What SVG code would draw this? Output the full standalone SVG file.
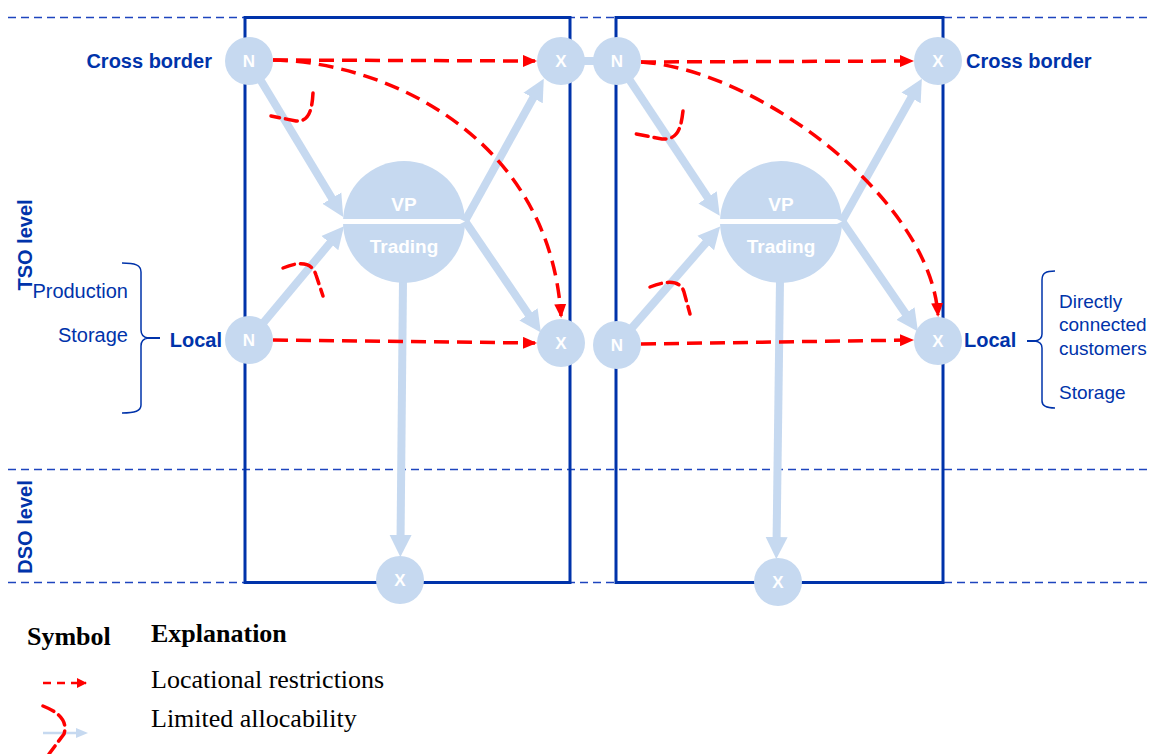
<svg xmlns="http://www.w3.org/2000/svg" width="1149" height="754" viewBox="0 0 1149 754">
  <style>
    .grid { stroke: #1E45BE; stroke-width: 1.5; stroke-dasharray: 8 5; fill: none; }
    .box { stroke: #0033AA; stroke-width: 3; fill: none; }
    .flow { stroke: #C6D9F0; stroke-width: 8; fill: none; marker-end: url(#flowHead); }
    .link { stroke: #C6D9F0; stroke-width: 8; fill: none; }
    .restr { stroke: #FF0000; stroke-width: 3.5; fill: none; stroke-dasharray: 15 8; marker-end: url(#redHead); }
    .hook { stroke: #FF0000; stroke-width: 3.5; fill: none; stroke-dasharray: 12 6; stroke-linecap: round; }
    .node { fill: #C6D9F0; }
    .nodeTxt { font-family: "Liberation Sans", Arial, sans-serif; font-weight: bold; font-size: 17px; fill: #FFFFFF; text-anchor: middle; }
    .vpTxt { font-family: "Liberation Sans", Arial, sans-serif; font-weight: bold; font-size: 19px; fill: #FFFFFF; text-anchor: middle; }
    .lbl { font-family: "Liberation Sans", Arial, sans-serif; font-weight: bold; font-size: 20px; fill: #0033AA; }
    .sub { font-family: "Liberation Sans", Arial, sans-serif; font-size: 20px; fill: #0033AA; }
    .subR { font-family: "Liberation Sans", Arial, sans-serif; font-size: 19px; fill: #0033AA; }
    .brace { stroke: #0033AA; stroke-width: 1.5; fill: none; }
    .legHead { font-family: "Liberation Serif", "Times New Roman", serif; font-weight: bold; font-size: 26px; fill: #000000; }
    .legTxt { font-family: "Liberation Serif", "Times New Roman", serif; font-size: 26px; fill: #000000; }
  </style>
  <defs>
    <marker id="flowHead" markerUnits="userSpaceOnUse" markerWidth="24" markerHeight="24" viewBox="0 0 24 24" refX="8" refY="12" orient="auto">
      <path d="M0,1 L22,12 L0,23 Z" fill="#C6D9F0"/>
    </marker>
    <marker id="redHead" markerUnits="userSpaceOnUse" markerWidth="14" markerHeight="12" viewBox="0 0 14 12" refX="12" refY="6" orient="auto">
      <path d="M0,0 L14,6 L0,12 Z" fill="#FF0000"/>
    </marker>
    <marker id="redHeadSmall" markerUnits="userSpaceOnUse" markerWidth="10" markerHeight="10" viewBox="0 0 10 10" refX="9" refY="5" orient="auto">
      <path d="M0,0 L10,5 L0,10 Z" fill="#FF0000"/>
    </marker>
    <marker id="flowHeadSmall" markerUnits="userSpaceOnUse" markerWidth="12" markerHeight="10" viewBox="0 0 12 10" refX="4" refY="5" orient="auto">
      <path d="M0,0 L12,5 L0,10 Z" fill="#C6D9F0"/>
    </marker>
  </defs>

  <!-- level separators -->
  <g id="grid">
    <line class="grid" x1="8" y1="17.5" x2="1149" y2="17.5"/>
    <line class="grid" x1="8" y1="469.5" x2="1149" y2="469.5"/>
    <line class="grid" x1="8" y1="582.5" x2="1149" y2="582.5"/>
  </g>

  <!-- market areas -->
  <g id="areas">
    <rect class="box" x="245" y="17.5" width="325" height="565"/>
    <rect class="box" x="616" y="17.5" width="327" height="565"/>
  </g>

  <g id="connectors">
    <!-- gas flows -->
    <line class="link" x1="561" y1="61" x2="617" y2="61"/>
    <line class="flow" x1="249" y1="61" x2="336" y2="205"/>
    <line class="flow" x1="249" y1="340" x2="335" y2="237"/>
    <line class="flow" x1="465" y1="221" x2="537" y2="91"/>
    <line class="flow" x1="465" y1="221" x2="533" y2="321"/>
    <line class="flow" x1="403" y1="280" x2="400.5" y2="543"/>
    <line class="flow" x1="617" y1="61" x2="712" y2="204"/>
    <line class="flow" x1="617" y1="345" x2="711" y2="237"/>
    <line class="flow" x1="842" y1="221" x2="915" y2="91"/>
    <line class="flow" x1="842" y1="221" x2="910" y2="320"/>
    <line class="flow" x1="780" y1="280" x2="776.5" y2="545"/>

    <!-- locational restrictions -->
    <path class="restr" d="M273,60 L535,61"/>
    <path class="restr" d="M273,60 C390,62 550,140 561,316"/>
    <path class="restr" d="M273,340 L535,343"/>
    <path class="restr" d="M641,62 L912,61"/>
    <path class="restr" d="M641,62 C760,70 930,200 938,315"/>
    <path class="restr" d="M641,344 L912,340"/>

    <!-- limited allocability -->
    <path class="hook" d="M313,93 C312,112 308,122 296,121 L271,116"/>
    <path class="hook" d="M283,268 C300,261 312,262 316,275 L323,296"/>
    <path class="hook" d="M683,111 C681,128 678,140 662,139 L636,134"/>
    <path class="hook" d="M650,287 C665,281 680,279 684,292 L690,314"/>
  </g>

  <!-- area 1 nodes -->
  <g id="n1-cross">
    <circle class="node" cx="249" cy="61" r="24"/>
    <text class="nodeTxt" x="249" y="67">N</text>
  </g>
  <g id="x1-cross">
    <circle class="node" cx="561" cy="61" r="24"/>
    <text class="nodeTxt" x="561" y="67">X</text>
  </g>
  <g id="n1-local">
    <circle class="node" cx="249" cy="340" r="24"/>
    <text class="nodeTxt" x="249" y="346">N</text>
  </g>
  <g id="x1-local">
    <circle class="node" cx="561" cy="343" r="24"/>
    <text class="nodeTxt" x="561" y="349">X</text>
  </g>
  <g id="x1-dso">
    <circle class="node" cx="400" cy="580" r="24"/>
    <text class="nodeTxt" x="400" y="586">X</text>
  </g>
  <g id="vp1">
    <circle class="node" cx="404" cy="222" r="61"/>
    <path d="M343,219 L460,219 L465,221.5 L460,224 L343,224 Z" fill="#FFFFFF"/>
    <text class="vpTxt" x="404" y="211">VP</text>
    <text class="vpTxt" x="404" y="253">Trading</text>
  </g>

  <!-- area 2 nodes -->
  <g id="n2-cross">
    <circle class="node" cx="617" cy="61" r="24"/>
    <text class="nodeTxt" x="617" y="67">N</text>
  </g>
  <g id="x2-cross">
    <circle class="node" cx="938" cy="61" r="24"/>
    <text class="nodeTxt" x="938" y="67">X</text>
  </g>
  <g id="n2-local">
    <circle class="node" cx="617" cy="345" r="24"/>
    <text class="nodeTxt" x="617" y="351">N</text>
  </g>
  <g id="x2-local">
    <circle class="node" cx="938" cy="341" r="24"/>
    <text class="nodeTxt" x="938" y="347">X</text>
  </g>
  <g id="x2-dso">
    <circle class="node" cx="778" cy="582" r="24"/>
    <text class="nodeTxt" x="778" y="588">X</text>
  </g>
  <g id="vp2">
    <circle class="node" cx="781" cy="222" r="61"/>
    <path d="M720,219 L837,219 L842,221.5 L837,224 L720,224 Z" fill="#FFFFFF"/>
    <text class="vpTxt" x="781" y="211">VP</text>
    <text class="vpTxt" x="781" y="253">Trading</text>
  </g>

  <!-- level labels -->
  <g id="levels">
    <text class="lbl" transform="translate(32,245) rotate(-90)" text-anchor="middle">TSO level</text>
    <text class="lbl" transform="translate(32,527) rotate(-90)" text-anchor="middle">DSO level</text>
  </g>

  <!-- entry side labels -->
  <g id="entry-labels">
    <text class="lbl" x="212" y="68" text-anchor="end">Cross border</text>
    <text class="lbl" x="222" y="347" text-anchor="end">Local</text>
    <text class="sub" x="128" y="298" text-anchor="end">Production</text>
    <text class="sub" x="128" y="342" text-anchor="end">Storage</text>
    <path class="brace" d="M122,263 C135,263 141,265 141,272 L141,330 Q141,337 148,338 Q141,339 141,346 L141,405 C141,411 135,413 122,413"/>
    <line x1="147" y1="338" x2="160" y2="338" stroke="#0033AA" stroke-width="2"/>
  </g>

  <!-- exit side labels -->
  <g id="exit-labels">
    <text class="lbl" x="966" y="68">Cross border</text>
    <text class="lbl" x="964" y="347">Local</text>
    <path class="brace" d="M1055,271 C1046,271 1042,273 1042,280 L1042,334 Q1042,340 1035,341 Q1042,342 1042,348 L1042,401 C1042,406 1046,408 1055,408"/>
    <line x1="1027" y1="341" x2="1036" y2="341" stroke="#0033AA" stroke-width="2"/>
    <text class="subR" x="1059" y="308">Directly</text>
    <text class="subR" x="1059" y="331">connected</text>
    <text class="subR" x="1059" y="355">customers</text>
    <text class="subR" x="1059" y="399">Storage</text>
  </g>

  <!-- legend -->
  <g id="legend">
    <text class="legHead" x="27" y="645">Symbol</text>
    <text class="legHead" x="151" y="642">Explanation</text>
    <line x1="43" y1="683" x2="86" y2="683" stroke="#FF0000" stroke-width="2.5" stroke-dasharray="8 6" marker-end="url(#redHeadSmall)"/>
    <text class="legTxt" x="151" y="688">Locational restrictions</text>
    <line x1="43" y1="733" x2="80" y2="733" stroke="#C6D9F0" stroke-width="2.5" marker-end="url(#flowHeadSmall)"/>
    <path class="hook" d="M43,706 C58,712 68,720 64,734 L49,754"/>
    <text class="legTxt" x="151" y="727">Limited allocability</text>
  </g>
</svg>
